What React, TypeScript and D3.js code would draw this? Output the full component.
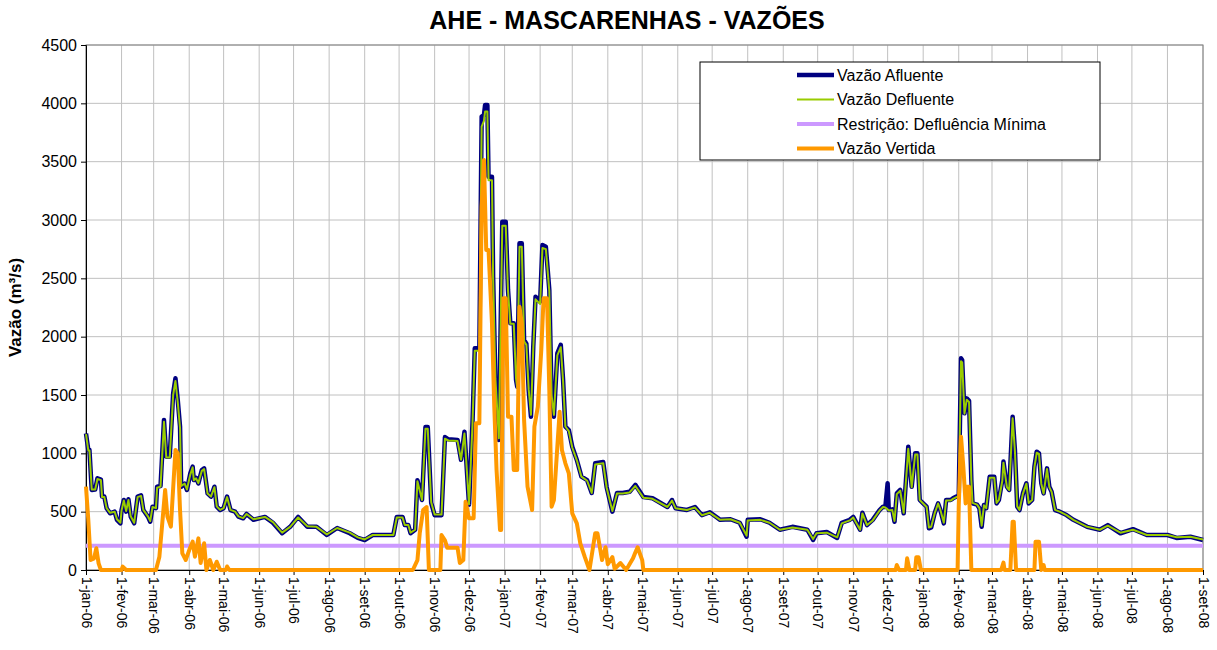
import React, { useEffect, useRef } from "react";
import * as d3 from "d3";

// meses em português, para os rótulos do eixo x
const meses = ["jan", "fev", "mar", "abr", "mai", "jun", "jul", "ago", "set", "out", "nov", "dez"];
const yTicks = [0, 500, 1000, 1500, 2000, 2500, 3000, 3500, 4000, 4500];
const inicio = new Date(Date.UTC(2006, 0, 1));
const fim = new Date(Date.UTC(2008, 8, 1));

// dias contados a partir de 1-jan-06 (afluente e defluente usam os mesmos dias)
const afluDias = [0, 2, 3, 5, 8, 10, 13, 14, 16, 18, 21, 25, 27, 30, 31, 33, 35, 37, 39, 42, 45, 48, 50, 54, 56, 58, 61, 62, 65, 68, 70, 73, 76, 78, 80, 82, 83, 86, 88, 91, 93, 94, 96, 98, 101, 103, 106, 109, 112, 114, 117, 120, 123, 126, 130, 133, 137, 140, 146, 156, 163, 171, 178, 185, 193, 201, 210, 219, 230, 237, 243, 250, 268, 271, 276, 278, 281, 283, 287, 289, 293, 296, 298, 301, 304, 310, 313, 316, 324, 327, 330, 334, 337, 339, 343, 345, 347, 348, 350, 351, 354, 355, 357, 360, 363, 366, 368, 370, 373, 375, 376, 378, 380, 382, 384, 386, 388, 390, 392, 394, 396, 398, 401, 404, 406, 408, 411, 414, 416, 418, 421, 424, 428, 432, 437, 441, 444, 451, 454, 459, 463, 468, 474, 479, 486, 494, 507, 511, 514, 524, 531, 537, 544, 553, 562, 570, 576, 577, 588, 596, 605, 616, 629, 634, 637, 646, 655, 659, 666, 669, 675, 677, 681, 686, 692, 695, 697, 699, 700, 703, 705, 707, 710, 713, 715, 717, 720, 723, 725, 727, 730, 733, 735, 737, 740, 743, 745, 748, 750, 754, 756, 759, 761, 763, 764, 766, 768, 770, 772, 773, 777, 779, 781, 783, 785, 788, 792, 794, 796, 799, 800, 803, 805, 808, 810, 812, 814, 817, 820, 822, 825, 827, 829, 831, 833, 835, 838, 840, 842, 845, 849, 855, 861, 873, 884, 891, 902, 913, 925, 943, 951, 963, 974];
const afluVals = [1170, 1030, 1030, 686, 690, 786, 775, 629, 629, 529, 486, 500, 429, 400, 514, 600, 500, 606, 457, 400, 629, 640, 514, 457, 414, 543, 530, 714, 720, 1286, 971, 971, 1514, 1643, 1457, 1229, 714, 740, 686, 829, 886, 771, 790, 743, 857, 871, 657, 629, 714, 543, 514, 530, 629, 514, 500, 457, 443, 480, 430, 455, 405, 315, 370, 455, 370, 370, 300, 360, 315, 275, 257, 300, 300, 455, 455, 385, 385, 315, 345, 770, 600, 1225, 1225, 575, 470, 470, 1140, 1120, 1115, 945, 1185, 560, 1260, 1900, 1900, 3886, 3900, 3986, 3986, 3371, 3371, 2514, 1629, 1114, 2986, 2986, 2400, 2114, 2114, 1629, 1571, 2800, 2800, 1971, 1940, 1543, 1314, 1914, 2343, 2320, 2300, 2786, 2770, 2400, 1486, 1314, 1857, 1929, 1629, 1229, 1200, 1057, 943, 800, 770, 660, 915, 925, 710, 500, 660, 660, 670, 730, 625, 615, 540, 600, 530, 515, 540, 470, 495, 430, 435, 405, 285, 430, 435, 405, 345, 370, 345, 257, 315, 325, 275, 405, 430, 455, 345, 490, 385, 430, 514, 543, 540, 743, 514, 520, 414, 657, 686, 486, 771, 1057, 714, 1000, 1000, 600, 571, 543, 357, 365, 486, 571, 514, 400, 600, 600, 614, 629, 629, 1814, 1800, 1343, 1471, 1450, 771, 571, 560, 529, 371, 557, 530, 800, 800, 571, 600, 771, 929, 714, 686, 1314, 1029, 543, 514, 657, 743, 571, 600, 886, 1014, 1000, 743, 657, 871, 714, 671, 514, 500, 471, 430, 370, 345, 385, 315, 350, 300, 300, 275, 285, 257];
const defluVals = [1165, 1025, 1025, 690, 690, 780, 770, 625, 625, 530, 490, 500, 435, 405, 510, 595, 505, 600, 460, 405, 625, 635, 515, 460, 420, 540, 530, 705, 715, 1270, 965, 965, 1500, 1620, 1440, 1215, 720, 740, 690, 820, 880, 770, 785, 745, 850, 865, 655, 630, 710, 545, 515, 530, 625, 515, 500, 460, 445, 480, 435, 455, 410, 320, 370, 450, 375, 370, 305, 360, 320, 280, 262, 300, 300, 450, 450, 385, 385, 320, 345, 760, 600, 1210, 1210, 580, 475, 475, 1125, 1110, 1105, 945, 1170, 565, 1245, 1880, 1880, 3800, 3850, 3930, 3930, 3340, 3340, 2500, 1640, 1130, 2950, 2950, 2390, 2110, 2110, 1640, 1560, 2770, 2770, 1960, 1930, 1550, 1330, 1900, 2320, 2300, 2280, 2760, 2750, 2390, 1500, 1330, 1840, 1910, 1620, 1230, 1190, 1050, 940, 800, 765, 660, 905, 915, 705, 505, 655, 655, 665, 720, 620, 610, 540, 595, 530, 515, 535, 470, 490, 430, 435, 405, 295, 425, 430, 405, 345, 365, 345, 265, 315, 320, 280, 400, 425, 450, 345, 485, 385, 425, 510, 540, 535, 520, 510, 515, 420, 650, 680, 490, 765, 1040, 710, 990, 990, 600, 570, 540, 365, 370, 485, 570, 515, 405, 595, 595, 610, 625, 625, 1790, 1780, 1340, 1460, 1440, 770, 575, 560, 530, 380, 555, 530, 790, 790, 575, 600, 765, 920, 710, 685, 1300, 1020, 545, 515, 655, 740, 575, 600, 880, 1005, 995, 740, 655, 865, 710, 670, 515, 500, 470, 430, 370, 345, 380, 320, 345, 300, 300, 280, 285, 262];

const vertDias = [0, 2, 4, 7, 9, 11, 13, 31, 32, 35, 61, 64, 67, 69, 71, 74, 78, 80, 82, 84, 87, 90, 93, 95, 98, 100, 103, 105, 108, 111, 114, 117, 122, 123, 125, 285, 289, 291, 294, 297, 299, 309, 310, 313, 315, 324, 326, 329, 331, 334, 338, 340, 343, 345, 347, 349, 351, 354, 356, 358, 361, 362, 364, 366, 368, 371, 373, 376, 378, 380, 382, 385, 389, 391, 394, 397, 399, 402, 404, 406, 408, 411, 413, 415, 418, 421, 424, 428, 431, 435, 439, 444, 446, 450, 453, 455, 459, 461, 466, 471, 477, 479, 481, 485, 486, 706, 707, 709, 715, 716, 718, 723, 724, 726, 728, 760, 761, 763, 765, 767, 768, 770, 772, 798, 800, 801, 806, 808, 809, 811, 827, 828, 831, 833, 835, 836, 974];
const vertVals = [714, 429, 86, 100, 186, 57, 0, 0, 29, 0, 0, 114, 457, 686, 457, 371, 1029, 1000, 514, 143, 86, 171, 243, 114, 271, 60, 229, 0, 86, 0, 71, 0, 0, 30, 0, 0, 85, 315, 515, 540, 0, 0, 300, 255, 190, 190, 60, 85, 586, 443, 443, 1257, 1257, 3114, 3514, 2743, 2743, 2114, 1400, 857, 343, 343, 2329, 2329, 1314, 1314, 857, 857, 2257, 2114, 1286, 714, 514, 1229, 1400, 1886, 2329, 2329, 1543, 543, 600, 1057, 1357, 1029, 914, 829, 486, 400, 229, 110, 0, 315, 315, 85, 195, 50, 110, 10, 60, 0, 100, 150, 195, 85, 0, 0, 43, 0, 0, 100, 0, 0, 109, 109, 0, 0, 543, 1143, 886, 571, 714, 714, 0, 0, 63, 0, 0, 414, 414, 0, 0, 243, 243, 0, 43, 0, 0];

const restricao = 208;

const legenda = [
  { nome: "Vazão Afluente", cor: "#000080", larg: 4.5 },
  { nome: "Vazão Defluente", cor: "#99cc00", larg: 2 },
  { nome: "Restrição: Defluência Mínima", cor: "#cc99ff", larg: 4 },
  { nome: "Vazão Vertida", cor: "#ff9900", larg: 4 },
];

const fonte = "'Liberation Sans', Arial, sans-serif";

const App = () => {
  const svgRef = useRef<SVGSVGElement>(null);

  useEffect(() => {
    const svg = d3.select(svgRef.current);
    svg.selectAll("*").remove();

    const width = 1217;
    const height = 650;
    const margin = { top: 45, right: 14, bottom: 80, left: 86 };

    svg.attr("width", width).attr("height", height).style("font-family", fonte);

    const x = d3.scaleUtc()
      .domain([inicio, fim])
      .range([margin.left, width - margin.right]);

    const y = d3.scaleLinear()
      .domain([0, 4500])
      .range([height - margin.bottom, margin.top]);

    const dia = (d: number) => d3.utcDay.offset(inicio, d);
    const mesesTicks = d3.utcMonth.range(inicio, d3.utcDay.offset(fim, 1));

    // grade
    const grade = svg.append("g").attr("stroke", "#c0c0c0").attr("stroke-width", 1);
    grade.selectAll("line.h")
      .data(yTicks)
      .enter()
      .append("line")
      .attr("x1", margin.left).attr("x2", width - margin.right)
      .attr("y1", d => y(d)).attr("y2", d => y(d));
    grade.selectAll("line.v")
      .data(mesesTicks)
      .enter()
      .append("line")
      .attr("x1", d => x(d)).attr("x2", d => x(d))
      .attr("y1", margin.top).attr("y2", height - margin.bottom);

    // borda da área de plotagem
    svg.append("rect")
      .attr("x", margin.left).attr("y", margin.top)
      .attr("width", width - margin.left - margin.right)
      .attr("height", height - margin.top - margin.bottom)
      .attr("fill", "none").attr("stroke", "#808080");

    // eixos
    const eixoY = svg.append("g")
      .attr("transform", `translate(${margin.left},0)`)
      .call(d3.axisLeft(y).tickValues(yTicks).tickFormat(d3.format("d")).tickSize(5).tickPadding(4));
    eixoY.select(".domain").attr("stroke", "#000");
    eixoY.selectAll("text").attr("font-size", 16).attr("fill", "#000").style("font-family", fonte);

    const fmt = (d: Date) => `1-${meses[d.getUTCMonth()]}-${String(d.getUTCFullYear()).slice(2)}`;
    const eixoX = svg.append("g")
      .attr("transform", `translate(0,${height - margin.bottom})`)
      .call(d3.axisBottom(x).tickValues(mesesTicks).tickFormat(d => fmt(d as Date)).tickSize(5));
    eixoX.select(".domain").attr("stroke", "#000");
    eixoX.selectAll("text")
      .attr("font-size", 14)
      .attr("fill", "#000")
      .style("font-family", fonte)
      .attr("transform", "rotate(90)")
      .attr("text-anchor", "start")
      .attr("x", 7)
      .attr("y", 0)
      .attr("dy", "0.35em");

    // séries
    const linha = d3.line<[number, number]>()
      .x(d => x(dia(d[0])))
      .y(d => y(d[1]));

    const desenha = (pts: [number, number][], cor: string, larg: number) => {
      svg.append("path")
        .datum(pts)
        .attr("fill", "none")
        .attr("stroke", cor)
        .attr("stroke-width", larg)
        .attr("stroke-linejoin", "round")
        .attr("d", linha);
    };

    desenha(afluDias.map((d, i) => [d, afluVals[i]] as [number, number]), legenda[0].cor, legenda[0].larg);
    desenha(afluDias.map((d, i) => [d, defluVals[i]] as [number, number]), legenda[1].cor, legenda[1].larg);
    desenha([[0, restricao], [974, restricao]], legenda[2].cor, legenda[2].larg);
    desenha(vertDias.map((d, i) => [d, vertVals[i]] as [number, number]), legenda[3].cor, legenda[3].larg);

    // títulos
    svg.append("text")
      .attr("x", 627).attr("y", 29)
      .attr("text-anchor", "middle")
      .attr("font-size", 25)
      .attr("font-weight", "bold")
      .text("AHE - MASCARENHAS - VAZÕES");

    svg.append("text")
      .attr("transform", `translate(21,${(margin.top + height - margin.bottom) / 2}) rotate(-90)`)
      .attr("text-anchor", "middle")
      .attr("font-size", 17)
      .attr("font-weight", "bold")
      .text("Vazão (m³/s)");

    // legenda
    const leg = svg.append("g");
    leg.append("rect")
      .attr("x", 700).attr("y", 62).attr("width", 400).attr("height", 98)
      .attr("fill", "#fff").attr("stroke", "#000");
    legenda.forEach((s, i) => {
      const ly = 75 + i * 24.5;
      leg.append("line")
        .attr("x1", 797).attr("x2", 834)
        .attr("y1", ly).attr("y2", ly)
        .attr("stroke", s.cor).attr("stroke-width", s.larg);
      leg.append("text")
        .attr("x", 837).attr("y", ly)
        .attr("dy", "0.35em")
        .attr("font-size", 16)
        .text(s.nome);
    });
  }, []);

  return (
    <div style={{ position: "absolute", left: 0, top: 0 }}>
      <svg ref={svgRef}></svg>
    </div>
  );
};

export default App;
